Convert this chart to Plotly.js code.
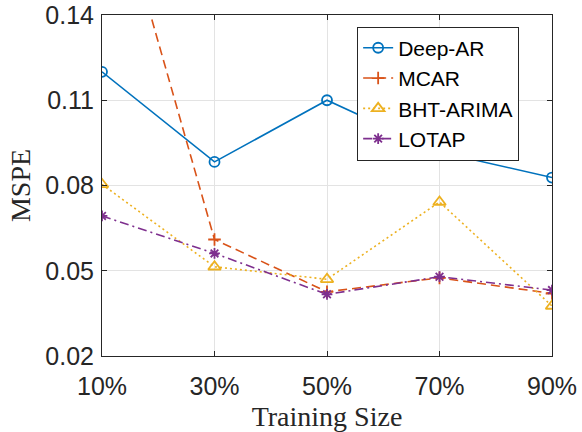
<!DOCTYPE html>
<html>
<head>
<meta charset="utf-8">
<script src="https://cdn.plot.ly/plotly-3.0.1.min.js"></script>
<style>html,body{margin:0;padding:0;background:#fff;}#chart{width:582px;height:432px;}</style>
</head>
<body>
<div id="chart"></div>
<script>
const categories = ['10%', '30%', '50%', '70%', '90%'];
const deepAR = [0.120, 0.0883, 0.110, 0.0918, 0.0828];
const mcar = [0.200, 0.0610, 0.0426, 0.0475, 0.0420];
const bhtArima = [0.0804, 0.0514, 0.0470, 0.0742, 0.0376];
const lotap = [0.0693, 0.0561, 0.0417, 0.0479, 0.0432];
const yTicks = [0.02, 0.05, 0.08, 0.11, 0.14];
const yTickText = ['0.02', '0.05', '0.08', '0.11', '0.14'];

const xIdx = categories.map((_, i) => i);

const traces = [
  {name: 'Deep-AR', y: deepAR, color: '#0072BD', dash: 'solid', symbol: 'circle-open', size: 10},
  {name: 'MCAR', y: mcar, color: '#D95319', dash: '9px,5px', symbol: 'cross-thin-open', size: 9},
  {name: 'BHT-ARIMA', y: bhtArima, color: '#EDB120', dash: '2px,3px', symbol: 'triangle-up-open', size: 11},
  {name: 'LOTAP', y: lotap, color: '#7E2F8E', dash: '9px,4px,2px,4px', symbol: 'asterisk-open', size: 9}
].map(t => ({
  type: 'scatter', mode: 'lines+markers', name: t.name,
  x: xIdx, y: t.y,
  line: {color: t.color, width: 1.6, dash: t.dash},
  marker: {symbol: t.symbol, size: t.size, color: t.color, line: {color: t.color, width: 1.8}},
  cliponaxis: true
}));

const layout = {
  width: 582, height: 432,
  margin: {l: 102, r: 30, t: 15, b: 76},
  paper_bgcolor: '#ffffff', plot_bgcolor: '#ffffff',
  showlegend: true,
  legend: {
    x: 0.567, y: 0.966, xanchor: 'left', yanchor: 'top',
    bgcolor: '#ffffff', bordercolor: '#262626', borderwidth: 1,
    font: {family: 'Liberation Sans, Arial, sans-serif', size: 21, color: '#000000'},
    tracegroupgap: 0
  },
  xaxis: {
    type: 'linear', range: [0, 4],
    tickvals: xIdx, ticktext: categories,
    showgrid: true, gridcolor: '#e3e3e3', gridwidth: 1,
    zeroline: false, showline: true, linecolor: '#262626', linewidth: 1, mirror: 'ticks',
    ticks: 'inside', ticklen: 5, tickcolor: '#262626', ticklabelstandoff: 8,
    tickfont: {family: 'Liberation Sans, Arial, sans-serif', size: 25, color: '#262626'},
    title: {text: 'Training Size', font: {family: 'Liberation Serif, Times New Roman, serif', size: 28, color: '#262626'}, standoff: 8}
  },
  yaxis: {
    range: [0.02, 0.14],
    tickvals: yTicks, ticktext: yTickText,
    showgrid: true, gridcolor: '#e3e3e3', gridwidth: 1,
    zeroline: false, showline: true, linecolor: '#262626', linewidth: 1, mirror: 'ticks',
    ticks: 'inside', ticklen: 5, tickcolor: '#262626', ticklabelstandoff: 2,
    tickfont: {family: 'Liberation Sans, Arial, sans-serif', size: 25, color: '#262626'},
    title: {text: 'MSPE', font: {family: 'Liberation Serif, Times New Roman, serif', size: 28, color: '#262626'}, standoff: 6}
  }
};

Plotly.newPlot('chart', traces, layout, {staticPlot: true, displayModeBar: false});
</script>
</body>
</html>
